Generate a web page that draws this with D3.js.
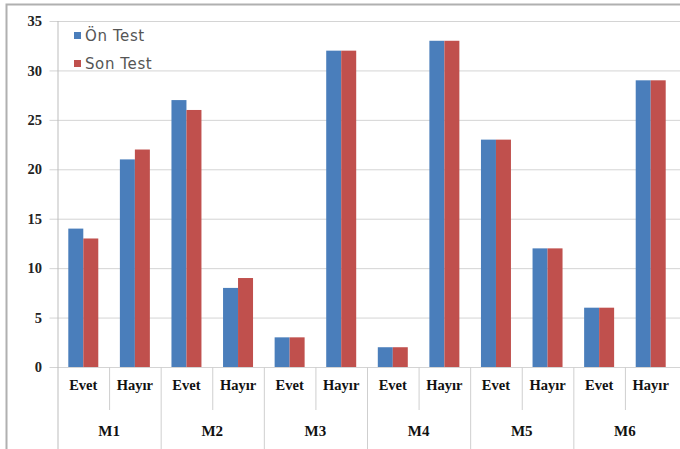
<!DOCTYPE html>
<html>
<head>
<meta charset="utf-8">
<script src="https://cdnjs.cloudflare.com/ajax/libs/d3/7.8.5/d3.min.js"></script>
<style>
  body { margin: 0; background: #fff; }
  svg { display: block; }
</style>
</head>
<body>
<div id="chart"></div>
<script>
// data
const groups = ["M1", "M2", "M3", "M4", "M5", "M6"];
const answers = ["Evet", "Hayır"];
const onTest = [14, 21, 27, 8, 3, 32, 2, 33, 23, 12, 6, 29];
const sonTest = [13, 22, 26, 9, 3, 32, 2, 33, 23, 12, 6, 29];
const yTicks = [0, 5, 10, 15, 20, 25, 30, 35];
const seriesNames = ["Ön Test", "Son Test"];
const seriesColors = ["#4a7ebb", "#c0504d"];

const W = 680, H = 449;
const plot = { left: 57.5, right: 676.5, top: 21, bottom: 367 };

// one row per bar pair
const rows = [];
groups.forEach((g, gi) => {
  answers.forEach((a, ai) => {
    const i = gi * answers.length + ai;
    rows.push({ key: g + "-" + a, group: g, answer: a, vals: [onTest[i], sonTest[i]] });
  });
});

const svg = d3.select("#chart").append("svg")
  .attr("width", W)
  .attr("height", H);

const x = d3.scaleBand()
  .domain(rows.map(d => d.key))
  .range([plot.left, plot.right]);

const x1 = d3.scaleBand()
  .domain([0, 1])
  .range([0, x.bandwidth()])
  .paddingOuter(0.72)
  .paddingInner(0);

const y = d3.scaleLinear()
  .domain([0, 35])
  .range([plot.bottom, plot.top]);

// outer frame
svg.append("path")
  .attr("d", `M6.5,${H} L6.5,4.5 L${W},4.5`)
  .attr("fill", "none")
  .attr("stroke", "#b0b0b0")
  .attr("stroke-width", 2);

// grid
svg.append("g")
  .attr("transform", `translate(${plot.left},0)`)
  .call(d3.axisLeft(y).tickValues(yTicks).tickSize(-(W - plot.left)).tickFormat(""))
  .call(g => g.select(".domain").remove())
  .call(g => g.selectAll("line").attr("stroke", "#d4d4d4").attr("x1", -8));

// y tick labels
svg.append("g")
  .selectAll("text")
  .data(yTicks)
  .enter().append("text")
  .attr("x", 42)
  .attr("y", d => y(d))
  .attr("dy", "0.35em")
  .attr("text-anchor", "end")
  .style("font-family", "'Liberation Serif', 'Times New Roman', serif")
  .style("font-weight", "700")
  .style("font-size", "14.5px")
  .style("fill", "#222")
  .text(d => d);

// left axis line
svg.append("line")
  .attr("x1", plot.left + 0.5).attr("x2", plot.left + 0.5)
  .attr("y1", plot.top).attr("y2", H)
  .attr("stroke", "#bdbdbd");

// bars
const pair = svg.append("g").selectAll("g")
  .data(rows)
  .enter().append("g")
  .attr("transform", d => `translate(${x(d.key)},0)`);

pair.selectAll("rect")
  .data(d => d.vals.map((v, i) => ({ v, i })))
  .enter().append("rect")
  .attr("x", d => x1(d.i))
  .attr("y", d => y(d.v))
  .attr("width", x1.bandwidth())
  .attr("height", d => y(0) - y(d.v))
  .attr("fill", d => seriesColors[d.i]);

// category dividers
const sub = svg.append("g");
rows.forEach((d, i) => {
  const xx = x(d.key);
  if (i === 0) return;
  const isGroupEdge = i % answers.length === 0;
  sub.append("line")
    .attr("x1", xx + 0.5).attr("x2", xx + 0.5)
    .attr("y1", plot.bottom).attr("y2", isGroupEdge ? H : 410)
    .attr("stroke", "#cfcfcf");
});

// sub labels
svg.append("g").selectAll("text")
  .data(rows)
  .enter().append("text")
  .attr("x", d => x(d.key) + x.bandwidth() / 2)
  .attr("y", 390)
  .attr("text-anchor", "middle")
  .style("font-family", "'Liberation Serif', 'Times New Roman', serif")
  .style("font-weight", "700")
  .style("font-size", "14.5px")
  .style("fill", "#111")
  .text(d => d.answer);

// group labels
svg.append("g").selectAll("text")
  .data(groups)
  .enter().append("text")
  .attr("x", g => x(g + "-" + answers[0]) + x.bandwidth())
  .attr("y", 436)
  .attr("text-anchor", "middle")
  .style("font-family", "'Liberation Serif', 'Times New Roman', serif")
  .style("font-weight", "700")
  .style("font-size", "15px")
  .style("fill", "#111")
  .text(g => g);

// legend
const legend = svg.append("g").attr("transform", "translate(74,30)");
seriesNames.forEach((name, i) => {
  const row = legend.append("g").attr("transform", `translate(0,${i * 28})`);
  row.append("rect")
    .attr("width", 7).attr("height", 7)
    .attr("y", 2)
    .attr("fill", seriesColors[i]);
  row.append("text")
    .attr("x", 11)
    .attr("y", 6)
    .attr("dy", "0.35em")
    .style("font-family", "'DejaVu Sans', sans-serif")
    .style("font-size", "15px")
    .style("letter-spacing", "0.6px")
    .style("fill", "#555")
    .text(name);
});
</script>
</body>
</html>
